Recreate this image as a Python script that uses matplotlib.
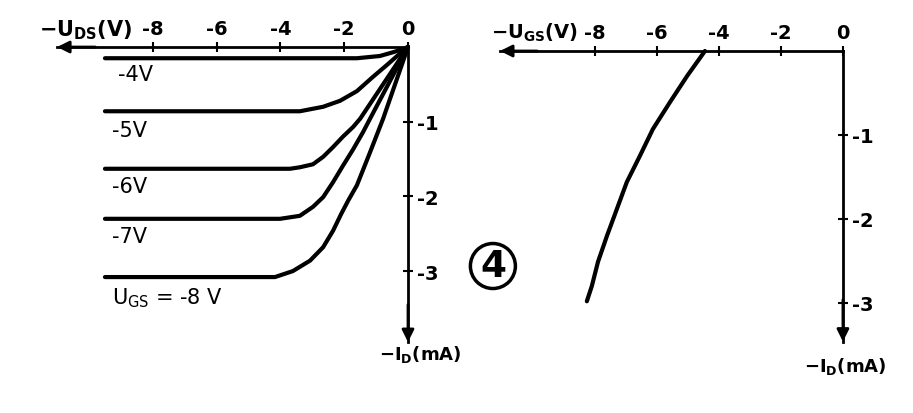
import matplotlib
matplotlib.use("Agg")
import matplotlib.pyplot as plt

plt.rcParams["font.family"] = ["DejaVu Sans"]
plt.rcParams["mathtext.fontset"] = "dejavusans"

# ── Data ────────────────────────────────────────────────────────────────────
# output characteristics: -U_DS (V) vs -I_D (mA) for several U_GS
ugs_labels = ["-4V", "-5V", "-6V", "-7V", r"U$_{\mathrm{GS}}$ = -8 V"]
uds_4 = [-9.50, -1.60, -0.88, -0.47, -0.25, 0.0]
id_4 = [-0.15, -0.15, -0.12, -0.07, -0.04, 0.0]
uds_5 = [-9.50, -3.39, -2.66, -2.13, -1.60, -1.10, -0.66, -0.34, 0.0]
id_5 = [-0.86, -0.86, -0.80, -0.72, -0.59, -0.40, -0.24, -0.12, 0.0]
uds_6 = [-9.50, -3.70, -3.39, -2.98, -2.66, -2.35, -2.04, -1.72, -1.50, 0.0]
id_6 = [-1.63, -1.63, -1.61, -1.57, -1.47, -1.34, -1.20, -1.07, -0.96, 0.0]
uds_7 = [-9.50, -4.01, -3.39, -2.98, -2.66, -2.35, -2.04, -1.72, -1.41, -1.19, 0.0]
id_7 = [-2.30, -2.30, -2.26, -2.14, -2.01, -1.81, -1.59, -1.37, -1.14, -0.96, 0.0]
uds_8 = [-9.50, -4.17, -3.61, -3.07, -2.66, -2.35, -2.10, -1.88, -1.60, -1.19, -0.78, 0.0]
id_8 = [-3.08, -3.08, -3.00, -2.86, -2.68, -2.46, -2.24, -2.06, -1.85, -1.41, -0.96, 0.0]

# transfer characteristic: -U_GS (V) vs -I_D (mA)
ugs_tr = [-4.45, -5.03, -5.58, -6.13, -6.55, -6.97, -7.29, -7.61, -7.90, -8.10, -8.26]
id_tr = [0.0, -0.30, -0.61, -0.93, -1.25, -1.56, -1.88, -2.20, -2.51, -2.80, -2.98]

x_ticks = [-8, -6, -4, -2, 0]
x_ticklabels = ["-8", "-6", "-4", "-2", "0"]
y_ticks = [-1, -2, -3]
y_ticklabels = ["-1", "-2", "-3"]

# ── Figure ──────────────────────────────────────────────────────────────────
fig = plt.figure(figsize=(9.13, 4.14), dpi=100)
fig.patch.set_facecolor("white")

LW_CURVE = 3.0
LW_AXIS = 2.0


def setup_axes(ax, x_end, y_end):
    for s in ["left", "bottom"]:
        ax.spines[s].set_visible(False)
    for s in ["top", "right"]:
        ax.spines[s].set_position(("data", 0))
        ax.spines[s].set_linewidth(LW_AXIS)
    ax.spines["top"].set_bounds(x_end, 0)
    ax.spines["right"].set_bounds(y_end, 0)
    ax.xaxis.tick_top()
    ax.yaxis.tick_right()
    ax.set_xticks(x_ticks)
    ax.set_xticklabels(x_ticklabels, fontweight="bold")
    ax.set_yticks(y_ticks)
    ax.set_yticklabels(y_ticklabels, fontweight="bold")
    ax.tick_params(axis="both", direction="inout", length=7, width=1.5,
                   labelsize=14, pad=3)
    ax.set_facecolor("none")
    # arrow heads
    ax.annotate("", xy=(x_end, 0), xytext=(x_end + 1.2, 0),
                arrowprops=dict(arrowstyle="-|>", color="black", lw=LW_AXIS,
                                mutation_scale=18, shrinkA=0, shrinkB=0))
    ax.annotate("", xy=(0, y_end), xytext=(0, y_end + 0.5),
                arrowprops=dict(arrowstyle="-|>", color="black", lw=LW_AXIS,
                                mutation_scale=18, shrinkA=0, shrinkB=0))


# ── Left: output characteristics ────────────────────────────────────────────
ax1 = fig.add_axes([0, 0, 456 / 913, 1])
ax1.set_xlim(-12.79, 1.505)
ax1.set_ylim(-4.90, 0.643)
setup_axes(ax1, -11.0, -3.95)

curves = [(uds_4, id_4), (uds_5, id_5), (uds_6, id_6), (uds_7, id_7), (uds_8, id_8)]
for u, i in curves:
    ax1.plot(u, i, color="black", lw=LW_CURVE, solid_capstyle="round",
             solid_joinstyle="round")

label_x = [-9.1, -9.28, -9.28, -9.28, -9.28]
label_y = [-0.36, -1.11, -1.86, -2.53, -3.35]
for txt, xx, yy in zip(ugs_labels, label_x, label_y):
    ax1.text(xx, yy, txt, fontsize=15, ha="left", va="center")

ax1.text(-10.1, 0.24, r"$\mathbf{-U_{DS}(V)}$", fontsize=15, ha="center",
         va="center")
ax1.text(0.38, -4.11, r"$\mathbf{-I_{D}(mA)}$", fontsize=13, ha="center",
         va="center")

# ── Right: transfer characteristic ──────────────────────────────────────────
ax2 = fig.add_axes([456 / 913, 0, 457 / 913, 1])
ax2.set_xlim(-12.48, 2.26)
ax2.set_ylim(-4.31, 0.619)
setup_axes(ax2, -11.06, -3.46)

ax2.plot(ugs_tr, id_tr, color="black", lw=LW_CURVE, solid_capstyle="round",
         solid_joinstyle="round")

ax2.text(-9.95, 0.226, r"$\mathbf{-U_{GS}(V)}$", fontsize=14, ha="center",
         va="center")
ax2.text(0.06, -3.75, r"$\mathbf{-I_{D}(mA)}$", fontsize=13, ha="center",
         va="center")
ax2.text(-11.29, -2.56, "4", fontsize=27, fontweight="bold", ha="center",
         va="center",
         bbox=dict(boxstyle="circle,pad=0.12", fc="white", ec="black", lw=2.5))

fig.savefig("out.png", dpi=100, facecolor="white")
